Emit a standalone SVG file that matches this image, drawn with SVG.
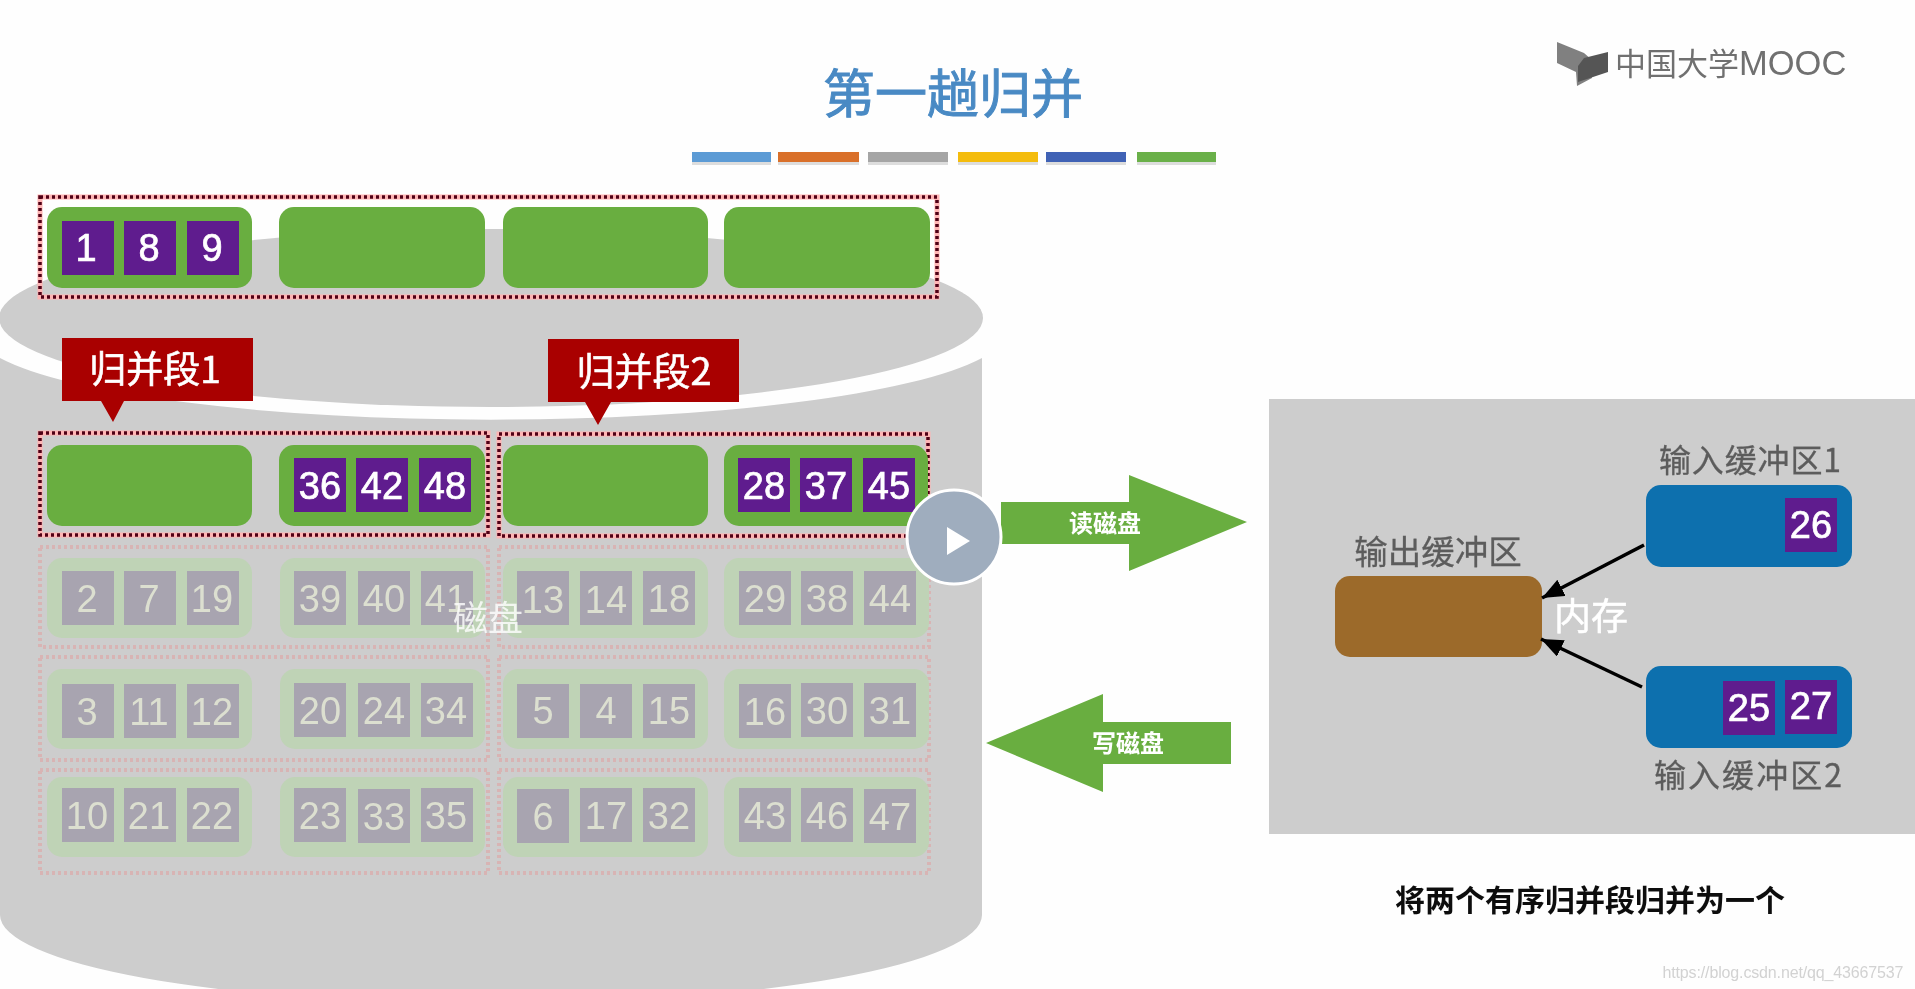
<svg xmlns="http://www.w3.org/2000/svg" width="1915" height="989" viewBox="0 0 1915 989">
<style>
text{font-family:"Liberation Sans","Noto Sans CJK SC",sans-serif;text-anchor:middle}
.cjk{font-family:"Noto Sans CJK SC","Liberation Sans",sans-serif}
.disk{fill:#cdcdcd}
.g{fill:#69ae40;width:205px;height:81px;rx:15px}
.gf{fill:#bfd3b6;width:205px;height:80px;rx:15px}
.p{fill:#5f1a8e;width:52px;height:54px}
.pf{fill:#a8a4b0;width:52px;height:54px}
.n{fill:#fff;font-size:38px;stroke:#fff;stroke-width:.7px}
.nf{fill:#dcdfd0;font-size:38px}
.d1{fill:none;stroke:#ffb4b4;stroke-width:5px}
.d2{fill:none;stroke:#500014;stroke-width:3.5px;stroke-dasharray:3 3}
.df{fill:none;stroke:#d8b4b4;stroke-width:4px;stroke-dasharray:3 3}
.call{fill:#a90000}
.calt{fill:#fff;stroke:#fff;stroke-width:.6px}
.lab{fill:#5c5c5c;stroke:#5c5c5c;stroke-width:.3px}
.big{fill:#69ae40}
.bigt{fill:#fff;font-size:24px;font-weight:700}
.blue{fill:#0b6fae;width:206px;height:82px;rx:15px}
.conn{stroke:#000;stroke-width:3.5px;fill:none;marker-end:url(#ah)}
.sh{fill:#bbb;opacity:.5;height:3px}
</style>
<defs>
<filter id="soft" x="-2%" y="-2%" width="104%" height="104%"><feGaussianBlur stdDeviation="0.7"/></filter>
<marker id="ah" markerUnits="userSpaceOnUse" markerWidth="24" markerHeight="20" refX="22" refY="9" orient="auto"><path d="M0 0L22 9L0 18Z" fill="#000"/></marker>
</defs>
<rect width="1915" height="989" fill="#fefefe"/>
<g filter="url(#soft)">
<g id="title">
<text class="cjk" x="953" y="113" font-size="52" fill="#4a8ac4" stroke="#4a8ac4" stroke-width="1">第一趟归并</text>
<rect class="sh" x="692" y="162" width="79"/><rect class="sh" x="778" y="162" width="81"/><rect class="sh" x="868" y="162" width="80"/><rect class="sh" x="958" y="162" width="80"/><rect class="sh" x="1046" y="162" width="80"/><rect class="sh" x="1137" y="162" width="79"/>
<rect x="692" y="152" width="79" height="10" fill="#5b9bd5"/>
<rect x="778" y="152" width="81" height="10" fill="#d9702c"/>
<rect x="868" y="152" width="80" height="10" fill="#a5a5a5"/>
<rect x="958" y="152" width="80" height="10" fill="#f4bc10"/>
<rect x="1046" y="152" width="80" height="10" fill="#3f62b5"/>
<rect x="1137" y="152" width="79" height="10" fill="#6ab04a"/>
</g>
<g id="logo">
<path d="M1557 42L1584 53L1592 60V78L1577 86L1576 72L1557 63Z" fill="#808080"/>
<path d="M1584 58L1608 52V72L1578 82V66Z" fill="#555"/>
<text class="cjk" x="1615" y="75" style="text-anchor:start" fill="#707070"><tspan font-size="31">中国大学</tspan><tspan font-size="34.5" font-family="Liberation Sans">MOOC</tspan></text>
</g>
<g id="disk">
<path class="disk" d="M0 358A516 89 0 0 0 982 358V915A491 89 0 0 1 0 915Z"/>
<ellipse class="disk" cx="491" cy="318" rx="492" ry="89"/>
</g>
<g id="run-top">
<rect class="d1" x="40" y="197" width="897" height="100"/><rect class="d2" x="40" y="197" width="897" height="100"/>
<rect class="g" x="47" y="207"/><rect class="g" x="279" y="207" style="width:206px"/><rect class="g" x="503" y="207"/><rect class="g" x="724" y="207" style="width:206px"/>
<rect class="p" x="62" y="221"/><rect class="p" x="124" y="221"/><rect class="p" x="187" y="221"/>
<text class="n" x="86" y="261">1</text><text class="n" x="149" y="261">8</text><text class="n" x="212" y="261">9</text>
</g>
<g id="segment-1">
<rect class="d1" x="40" y="433" width="448" height="102"/><rect class="d2" x="40" y="433" width="448" height="102"/>
<rect class="g" x="47" y="445"/><rect class="g" x="279" y="445" style="width:206px"/>
<rect class="p" x="294" y="458"/><rect class="p" x="356" y="458"/><rect class="p" x="419" y="458"/>
<text class="n" x="320" y="499">36</text><text class="n" x="382" y="499">42</text><text class="n" x="445" y="499">48</text>
</g>
<g id="segment-2">
<rect class="d1" x="499" y="434" width="429" height="102"/><rect class="d2" x="499" y="434" width="429" height="102"/>
<rect class="g" x="503" y="445"/><rect class="g" x="724" y="445" style="width:204px"/>
<rect class="p" x="738" y="458"/><rect class="p" x="800" y="458"/><rect class="p" x="863" y="458"/>
<text class="n" x="764" y="499">28</text><text class="n" x="826" y="499">37</text><text class="n" x="889" y="499">45</text>
</g>
<g id="callout-1">
<path class="call" d="M62 338H253V401H124L113 422L101 401H62Z"/>
<text class="calt cjk" x="155" y="383" font-size="37">归并段1</text>
</g>
<g id="callout-2">
<path class="call" d="M548 339H739V402H611L598 425L585 402H548Z"/>
<text class="calt cjk" x="644" y="385" font-size="38">归并段2</text>
</g>
<g id="row-3">
<rect class="df" x="40" y="547" width="448" height="100"/><rect class="df" x="499" y="547" width="430" height="100"/>
<rect class="gf" x="47" y="558"/><rect class="gf" x="280" y="558"/><rect class="gf" x="503" y="558"/><rect class="gf" x="724" y="558"/>
<rect class="pf" x="62" y="571"/><rect class="pf" x="124" y="571"/><rect class="pf" x="187" y="571"/>
<rect class="pf" x="294" y="571"/><rect class="pf" x="358" y="571"/><rect class="pf" x="421" y="571"/>
<rect class="pf" x="517" y="571"/><rect class="pf" x="580" y="571"/><rect class="pf" x="643" y="571"/>
<rect class="pf" x="739" y="571"/><rect class="pf" x="801" y="571"/><rect class="pf" x="864" y="571"/>
<text class="nf" x="87" y="612">2</text><text class="nf" x="149" y="612">7</text><text class="nf" x="212" y="612">19</text>
<text class="nf" x="320" y="612">39</text><text class="nf" x="384" y="612">40</text><text class="nf" x="446" y="612">41</text>
<text class="nf" x="543" y="613">13</text><text class="nf" x="606" y="613">14</text><text class="nf" x="669" y="612">18</text>
<text class="nf" x="765" y="612">29</text><text class="nf" x="827" y="612">38</text><text class="nf" x="890" y="612">44</text>
</g>
<g id="row-4">
<rect class="df" x="40" y="657" width="448" height="103"/><rect class="df" x="499" y="657" width="430" height="103"/>
<rect class="gf" x="47" y="669"/><rect class="gf" x="280" y="669"/><rect class="gf" x="503" y="669"/><rect class="gf" x="724" y="669"/>
<rect class="pf" x="62" y="684"/><rect class="pf" x="124" y="684"/><rect class="pf" x="187" y="684"/>
<rect class="pf" x="294" y="683"/><rect class="pf" x="358" y="683"/><rect class="pf" x="421" y="683"/>
<rect class="pf" x="517" y="684"/><rect class="pf" x="580" y="684"/><rect class="pf" x="643" y="684"/>
<rect class="pf" x="739" y="684"/><rect class="pf" x="801" y="683"/><rect class="pf" x="864" y="683"/>
<text class="nf" x="87" y="725">3</text><text class="nf" x="149" y="725">11</text><text class="nf" x="212" y="725">12</text>
<text class="nf" x="320" y="724">20</text><text class="nf" x="384" y="724">24</text><text class="nf" x="446" y="724">34</text>
<text class="nf" x="543" y="724">5</text><text class="nf" x="606" y="724">4</text><text class="nf" x="669" y="724">15</text>
<text class="nf" x="765" y="725">16</text><text class="nf" x="827" y="724">30</text><text class="nf" x="890" y="724">31</text>
</g>
<g id="row-5">
<rect class="df" x="40" y="770" width="448" height="103"/><rect class="df" x="499" y="770" width="430" height="103"/>
<rect class="gf" x="47" y="777"/><rect class="gf" x="280" y="777"/><rect class="gf" x="503" y="777"/><rect class="gf" x="724" y="777"/>
<rect class="pf" x="62" y="788"/><rect class="pf" x="124" y="788"/><rect class="pf" x="187" y="788"/>
<rect class="pf" x="294" y="788"/><rect class="pf" x="358" y="789"/><rect class="pf" x="421" y="788"/>
<rect class="pf" x="517" y="789"/><rect class="pf" x="580" y="788"/><rect class="pf" x="643" y="788"/>
<rect class="pf" x="739" y="788"/><rect class="pf" x="801" y="788"/><rect class="pf" x="864" y="789"/>
<text class="nf" x="87" y="829">10</text><text class="nf" x="149" y="829">21</text><text class="nf" x="212" y="829">22</text>
<text class="nf" x="320" y="829">23</text><text class="nf" x="384" y="830">33</text><text class="nf" x="446" y="829">35</text>
<text class="nf" x="543" y="830">6</text><text class="nf" x="606" y="829">17</text><text class="nf" x="669" y="829">32</text>
<text class="nf" x="765" y="829">43</text><text class="nf" x="827" y="829">46</text><text class="nf" x="890" y="830">47</text>
</g>
<g id="disk-label"><text class="cjk" x="488" y="631" font-size="35" fill="#fff" fill-opacity=".8">磁盘</text></g>
<g id="read-arrow">
<path class="big" d="M1001 502H1129V475L1247 522L1129 571V544H1001Z"/>
<text class="bigt cjk" x="1105" y="532">读磁盘</text>
</g>
<g id="write-arrow">
<path class="big" d="M986 743L1103 694V722H1231V764H1103V792Z"/>
<text class="bigt cjk" x="1128" y="752">写磁盘</text>
</g>
<g id="memory">
<rect class="disk" x="1269" y="399" width="646" height="435"/>
<text class="cjk" x="1591" y="630" font-size="37" fill="#fff" stroke="#fff" stroke-width=".5">内存</text>
</g>
<g id="output-buffer">
<rect x="1335" y="576" width="207" height="81" rx="15" fill="#9c6a2a"/>
<text class="lab cjk" x="1438" y="564" font-size="33.5">输出缓冲区</text>
</g>
<g id="input-buffer-1">
<rect class="blue" x="1646" y="485"/>
<rect class="p" x="1785" y="498"/>
<text class="n" x="1811" y="538">26</text>
<text class="lab cjk" x="1750" y="472" font-size="32" textLength="182">输入缓冲区1</text>
</g>
<g id="input-buffer-2">
<rect class="blue" x="1646" y="666"/>
<rect class="p" x="1723" y="681"/><rect class="p" x="1785" y="680"/>
<text class="n" x="1749" y="721">25</text><text class="n" x="1811" y="719">27</text>
<text class="lab cjk" x="1748" y="787" font-size="32" textLength="188">输入缓冲区2</text>
</g>
<g id="connectors">
<path class="conn" d="M1644 545L1542 598"/>
<path class="conn" d="M1642 687L1541 639"/>
</g>
<g id="caption"><text class="cjk" x="1590" y="911" font-size="30" font-weight="700" fill="#111">将两个有序归并段归并为一个</text></g>
<g id="watermark"><text x="1783" y="978" font-size="16" fill="#d2d2d2" textLength="241">https://blog.csdn.net/qq_43667537</text></g>
<g id="play">
<circle cx="954" cy="537" r="47" fill="#9fadbe" stroke="#fff" stroke-width="3"/>
<path d="M947 527L970 541L947 555Z" fill="#fff"/>
</g>
</g>
</svg>
